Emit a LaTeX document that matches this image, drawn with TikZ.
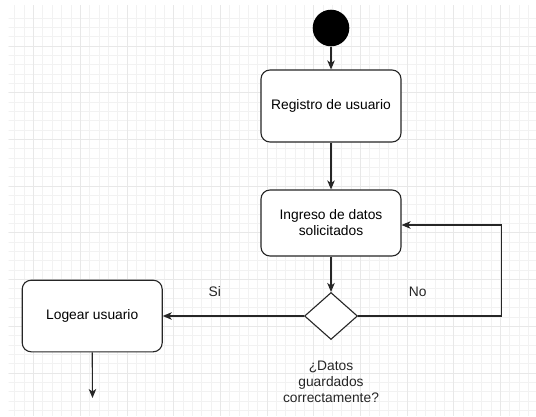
\documentclass[tikz,border=0pt]{standalone}
\usepackage{fontspec}
\setmainfont{Liberation Sans}
\usetikzlibrary{arrows.meta,shapes.geometric}
\begin{document}
\begin{tikzpicture}[x=1pt,y=-1pt,
  box/.style={draw=black!85,line width=1.1pt,rounded corners=9pt,fill=white,minimum width=140pt,align=center,inner sep=0pt,font=\fontsize{13.8}{17}\selectfont},
  conn/.style={draw=black!85,line width=1.1pt},
  arr/.style={conn,-{Stealth[length=9pt,width=7.5pt,inset=2.5pt]}},
  lbl/.style={font=\fontsize{13.8}{17}\selectfont,text=black!85,align=center,inner sep=0pt}]
\useasboundingbox (0,0) rectangle (536,416);
\fill[white] (0,0) rectangle (536,416);
% grid
\begin{scope}
\clip (8.5,5) rectangle (536,416);
\foreach \i in {-3,...,54} {
  \draw[black!5,line width=0.7pt] (33.5+\i*9.34,0) -- (33.5+\i*9.34,416);
  \draw[black!5,line width=0.7pt] (0,46+\i*9.34) -- (536,46+\i*9.34);
}
\foreach \i in {-1,...,11} {
  \draw[black!9,line width=0.8pt] (33.5+\i*46.7,0) -- (33.5+\i*46.7,416);
  \draw[black!9,line width=0.8pt] (0,46+\i*46.7) -- (536,46+\i*46.7);
}
\end{scope}
% nodes
\node[circle,fill=black,minimum size=36.6pt,inner sep=0pt] (start) at (331,28) {};
\node[box,minimum height=72pt] (reg) at (331,106) {Registro de usuario};
\node[box,minimum height=66pt] (ing) at (331,223) {Ingreso de datos\\[-1pt]solicitados};
\node[diamond,draw=black!85,line width=1.1pt,fill=white,minimum width=53pt,minimum height=47pt,inner sep=0pt] (dia) at (331,316) {};
\node[box,minimum height=71.6pt] (log) at (92.2,316) {Logear usuario};
\node[lbl] (q) at (331,382) {¿Datos\\[-1pt]guardados\\[-1pt]correctamente?};
\node[lbl] (si) at (214.7,291.8) {Si};
\node[lbl] (no) at (417.8,291.8) {No};
\coordinate (r) at (501.5,316);
\coordinate (end) at (92.5,398);
% connectors
\draw[arr] (start) -- (reg);
\draw[arr] (reg) -- (ing);
\draw[arr] (ing) -- (dia);
\draw[arr] (dia.east) -- (r) |- ([yshift=-2pt]ing.east);
\draw[arr] (dia.west) -- (log.east);
\draw[arr] (log.south) -- (end);
\end{tikzpicture}
\end{document}
